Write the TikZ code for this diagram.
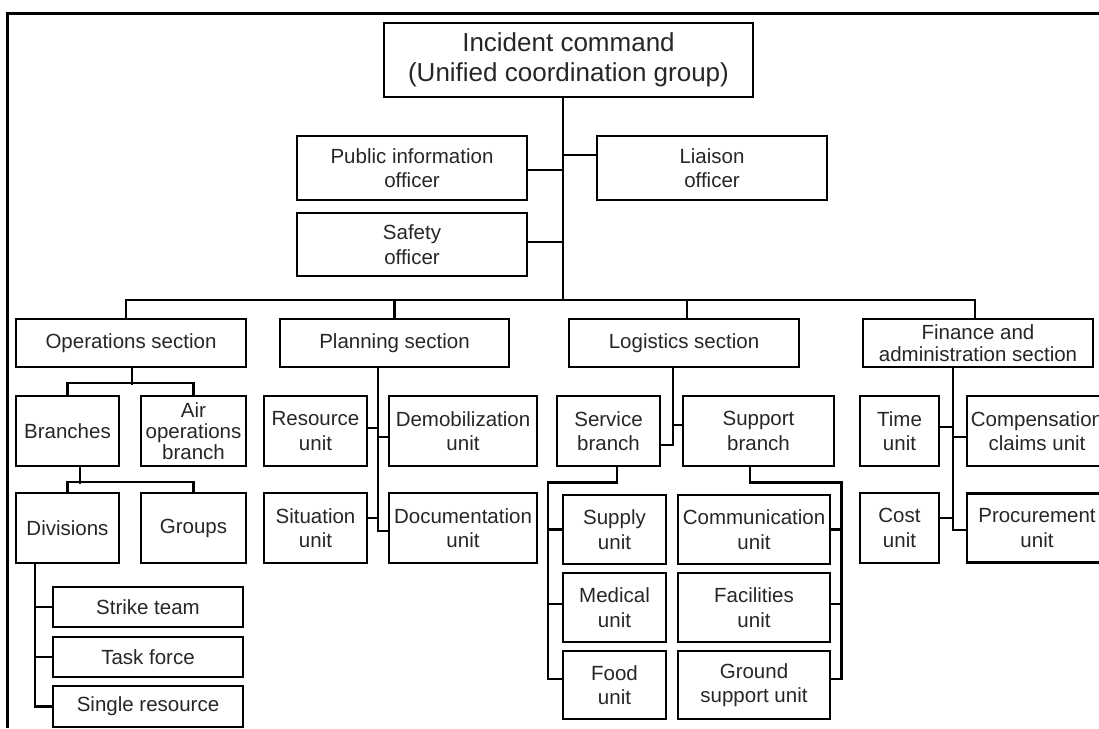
\documentclass[tikz,border=0pt]{standalone}
\usepackage{fontspec}
\setmainfont{Liberation Sans}
\begin{document}
\begin{tikzpicture}[x=1pt,y=-1pt,
  box/.style={draw=black, line width=2.5pt, inner sep=0pt, align=center,
    font=\fontsize{20.5}{24.6}\selectfont, text=black!85},
  link/.style={draw=black, line width=2.5pt, line join=miter}]
\useasboundingbox (0,0) rectangle (1099,728);
\draw[line width=3pt] (1099,13) -- (7,13) -- (7,728);

% top
\node[box, font=\fontsize{26}{30}\selectfont, minimum width=369pt, minimum height=74pt] (ic) at (568.5,60) {Incident command\\(Unified coordination group)};
\node[box, minimum width=230pt, minimum height=64pt] (pio) at (412,168) {Public information\\officer};
\node[box, minimum width=230pt, minimum height=64pt] (li) at (712,168) {Liaison\\officer};
\node[box, minimum width=230pt, minimum height=63pt] (saf) at (412,244.5) {Safety\\officer};

% sections
\node[box, minimum width=230pt, minimum height=48pt] (ops) at (131,343) {Operations section};
\node[box, minimum width=229pt, minimum height=48pt] (plan) at (394.5,343) {Planning section};
\node[box, minimum width=230pt, minimum height=48pt] (log) at (684,343) {Logistics section};
\node[box, minimum width=230pt, minimum height=48pt, font=\fontsize{20.5}{21.5}\selectfont] (fin) at (978,343) {Finance and\\administration section};

% operations
\node[box, minimum width=103pt, minimum height=70pt] (br) at (67.5,431) {Branches};
\node[box, minimum width=105pt, minimum height=70pt, font=\fontsize{20.5}{20.7}\selectfont] (air) at (193.5,431) {Air\\operations\\branch};
\node[box, minimum width=103pt, minimum height=70pt] (div) at (67.5,528) {Divisions};
\node[box, minimum width=105pt, minimum height=70pt] (grp) at (193.5,528) {Groups};
\node[box, minimum width=190pt, minimum height=40pt] (strike) at (148,607) {Strike team};
\node[box, minimum width=190pt, minimum height=40pt] (task) at (148,657) {Task force};
\node[box, minimum width=190pt, minimum height=41pt] (single) at (148,706.5) {Single resource};

% planning
\node[box, minimum width=103pt, minimum height=70pt] (res) at (315.5,431) {Resource\\unit};
\node[box, minimum width=148pt, minimum height=70pt] (dem) at (463,431) {Demobilization\\unit};
\node[box, minimum width=103pt, minimum height=70pt] (sit) at (315.5,528) {Situation\\unit};
\node[box, minimum width=148pt, minimum height=70pt] (doc) at (463,528) {Documentation\\unit};

% logistics
\node[box, minimum width=103pt, minimum height=70pt] (svc) at (608.5,431) {Service\\branch};
\node[box, minimum width=151pt, minimum height=70pt] (sup) at (758.5,431) {Support\\branch};
\node[box, minimum width=103pt, minimum height=69pt] (supply) at (614.5,529.5) {Supply\\unit};
\node[box, minimum width=103pt, minimum height=69pt] (med) at (614.5,607.5) {Medical\\unit};
\node[box, minimum width=103pt, minimum height=68pt] (food) at (614.5,685) {Food\\unit};
\node[box, minimum width=152pt, minimum height=69pt] (comm) at (754,529.5) {Communication\\unit};
\node[box, minimum width=152pt, minimum height=69pt] (fac) at (754,607.5) {Facilities\\unit};
\node[box, minimum width=152pt, minimum height=68pt] (gnd) at (754,685) {Ground\\support unit};

% finance
\node[box, minimum width=79pt, minimum height=70pt] (time) at (899.5,431) {Time\\unit};
\node[box, minimum width=140pt, minimum height=70pt] (comp) at (1037,431) {Compensation\\claims unit};
\node[box, minimum width=79pt, minimum height=70pt] (cost) at (899.5,528) {Cost\\unit};
\node[box, minimum width=140pt, minimum height=69pt] (proc) at (1037,528) {Procurement\\unit};

% command trunk
\path ([xshift=-5.5pt]ic.south) coordinate (tk);
\path ([xshift=-5pt]ops.north) coordinate (d1)
      ([xshift=3pt]log.north) coordinate (d3)
      ([xshift=-3pt]fin.north) coordinate (d4);
\draw[link] (d1) -- ++(0,-18) coordinate (bl) -| (d4);
\draw[link] (tk) -- (tk |- bl);
\draw[link] (plan.north) -- (plan.north |- bl);
\draw[link] (d3) -- (d3 |- bl);
\path ([yshift=-2pt]pio.east) coordinate (p1)
      ([yshift=13pt]li.west) coordinate (l1)
      ([yshift=2.5pt]saf.east) coordinate (s0);
\draw[link] (p1) -- (p1 -| tk);
\draw[link] (l1) -- (l1 -| tk);
\draw[link] (s0) -- (s0 -| tk);

% operations links
\draw[link] ([xshift=1pt]ops.south) -- ++(0,17);
\draw[link] (br.north) -- ++(0,-12) -| (air.north);
\draw[link] ([xshift=12.5pt]br.south) -- ++(0,17);
\draw[link] (div.north) -- ++(0,-10) -| (grp.north);
\path ([xshift=-32.5pt]div.south) coordinate (dv);
\draw[link] (dv) |- (single.west);
\draw[link] (strike.west) -- (strike.west -| dv);
\draw[link] (task.west) -- (task.west -| dv);

% planning links
\path ([xshift=-16.5pt]plan.south) coordinate (pt);
\draw[link] (pt) |- ([yshift=-3pt]doc.west);
\path ([yshift=3pt]res.east) coordinate (r1)
      ([yshift=-6pt]dem.west) coordinate (r2)
      ([yshift=10pt]sit.east) coordinate (r3);
\draw[link] (r1) -- (r1 -| pt);
\draw[link] (r2) -- (r2 -| pt);
\draw[link] (r3) -- (r3 -| pt);

% logistics links
\path ([xshift=-11pt]log.south) coordinate (lt);
\draw[link] (lt) |- ([yshift=-14pt]svc.east);
\path ([yshift=6pt]sup.west) coordinate (g1);
\draw[link] (g1) -- (g1 -| lt);
\draw[link] ([xshift=8.5pt]svc.south) -- ++(0,15) -| ([yshift=6pt,xshift=-14pt]food.west) -- ([yshift=6pt]food.west);
\draw[link] (supply.west) -- ++(-14,0);
\draw[link] ([yshift=3.5pt]med.west) -- ++(-14,0);
\draw[link] ([xshift=-8.5pt]sup.south) -- ++(0,15) -| ([yshift=6pt,xshift=10pt]gnd.east) -- ([yshift=6pt]gnd.east);
\draw[link] (comm.east) -- ++(10,0);
\draw[link] ([yshift=3.5pt]fac.east) -- ++(10,0);

% finance links
\path ([xshift=-25pt]fin.south) coordinate (ft);
\draw[link] (ft) |- ([yshift=-2pt]proc.west);
\path ([yshift=4pt]time.east) coordinate (f1)
      ([yshift=-6pt]comp.west) coordinate (f2)
      ([yshift=10pt]cost.east) coordinate (f3);
\draw[link] (f1) -- (f1 -| ft);
\draw[link] (f2) -- (f2 -| ft);
\draw[link] (f3) -- (f3 -| ft);
\end{tikzpicture}
\end{document}
